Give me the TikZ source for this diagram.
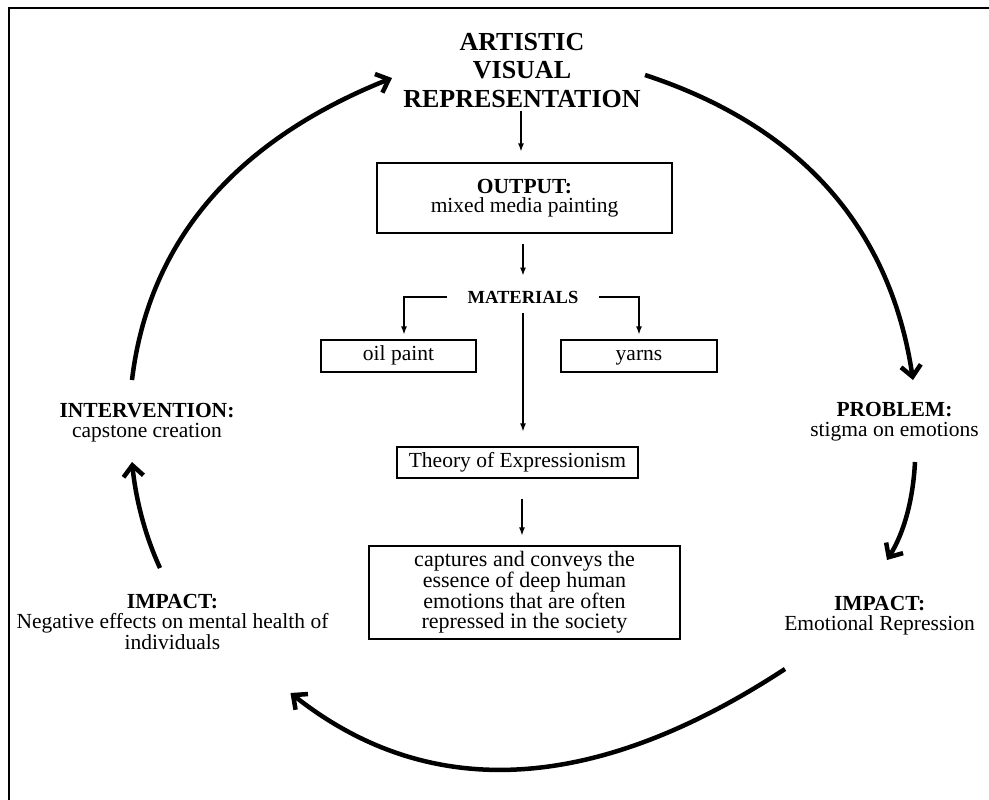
\documentclass[tikz,border=0pt]{standalone}
\usepackage{fontspec}
\setmainfont{Liberation Serif}
\usepackage{tikz}
\usetikzlibrary{arrows.meta,positioning}

\newcommand{\headfont}{\fontsize{26}{28.5}\selectfont\bfseries}
\newcommand{\txtfont}{\fontsize{21.5}{19.5}\selectfont}

\begin{document}
\begin{tikzpicture}[x=1pt, y=-1pt,
  box/.style={draw, line width=1.2pt, inner sep=0pt, align=center, font=\txtfont},
  onebox/.style={box, text height=14pt, text depth=4.5pt},
  lbl/.style={align=center, inner sep=0pt, font=\txtfont},
  arr/.style={-{Latex[length=8pt,width=6pt]}, line width=1.3pt},
  cyc/.style={-{Straight Barb[length=11pt,width=20pt]}, line width=4.5pt}
]
\useasboundingbox (0,0) rectangle (989,800);
\draw[line width=2pt] (9,800) -- (9,8) -- (989,8);

% centre column
\node[lbl, font=\headfont, anchor=base] (avr) at (522,107.3) {ARTISTIC\\VISUAL\\REPRESENTATION};
\node[box, minimum width=295pt, minimum height=70pt] (output) at (524.5,198) {\textbf{OUTPUT:}\\mixed media painting};
\node[lbl, font=\fontsize{18.5}{20}\selectfont\bfseries, inner xsep=20pt, inner ysep=6pt] (mat) at (523,297) {MATERIALS};
\node[onebox, minimum width=155pt, minimum height=32pt] (oil) at (398.5,356) {oil paint};
\node[onebox, minimum width=156pt, minimum height=32pt] (yarn) at (639,356) {yarns};
\node[onebox, minimum width=241pt, minimum height=31pt] (theory) at (517.5,462.5) {Theory of Expressionism};
\node[box, minimum width=311pt, minimum height=93pt, font=\fontsize{22}{20}\selectfont] (essence) at (524.5,592.5) {captures and conveys the\\essence of deep human\\emotions that are often\\repressed in the society};

% cycle labels
\node[lbl, anchor=base] (problem) at (894.5,436) {\textbf{PROBLEM:}\\stigma on emotions};
\node[lbl, anchor=base] (impr) at (879.6,630) {\textbf{IMPACT:}\\Emotional Repression};
\node[lbl, anchor=base] (impl) at (172.5,649) {\textbf{IMPACT:}\\Negative effects on mental health of\\individuals};
\node[lbl, anchor=base] (interv) at (147,437) {\textbf{INTERVENTION:}\\capstone creation};

\draw[arr, shorten <=3pt, shorten >=11pt] (avr.south -| 521,0) -- (output.north -| 521,0);
\draw[arr, shorten <=10pt, shorten >=9pt] (output.south -| mat.south) -- (mat.north);
\draw[arr, shorten >=5pt] (mat.west) -| ([xshift=5.5pt]oil.north);
\draw[arr, shorten >=5pt] (mat.east) -| (yarn.north);
\draw[arr, shorten <=4pt, shorten >=15pt] (mat.south) -- (mat.south |- theory.north);
\draw[arr, shorten <=20pt, shorten >=10pt] (theory.south -| 522,0) -- (essence.north -| 522,0);

% cycle arrows
\coordinate (c1a) at (132,380);   \coordinate (c1b) at (392,78);
\coordinate (c2a) at (645,75);    \coordinate (c2b) at (913,380);
\coordinate (c3a) at (915,462);   \coordinate (c3b) at (887,560);
\coordinate (c4a) at (785,669);   \coordinate (c4b) at (290.5,693);
\coordinate (c5a) at (160,568);   \coordinate (c5b) at (132,462);
\draw[cyc] (c1a) .. controls (148.7,241.3) and (235.3,140.7) .. (c1b);
\draw[cyc] (c2a) .. controls (801,126.3) and (890.3,228) .. (c2b);
\draw[cyc] (c3a) .. controls (913,500.7) and (903.7,533.3) .. (c3b);
\draw[cyc] (c4a) .. controls (593.7,794.3) and (428.8,802.3) .. (c4b);
\draw[cyc] (c5a) .. controls (145.3,536) and (136,500.7) .. (c5b);
\end{tikzpicture}
\end{document}
